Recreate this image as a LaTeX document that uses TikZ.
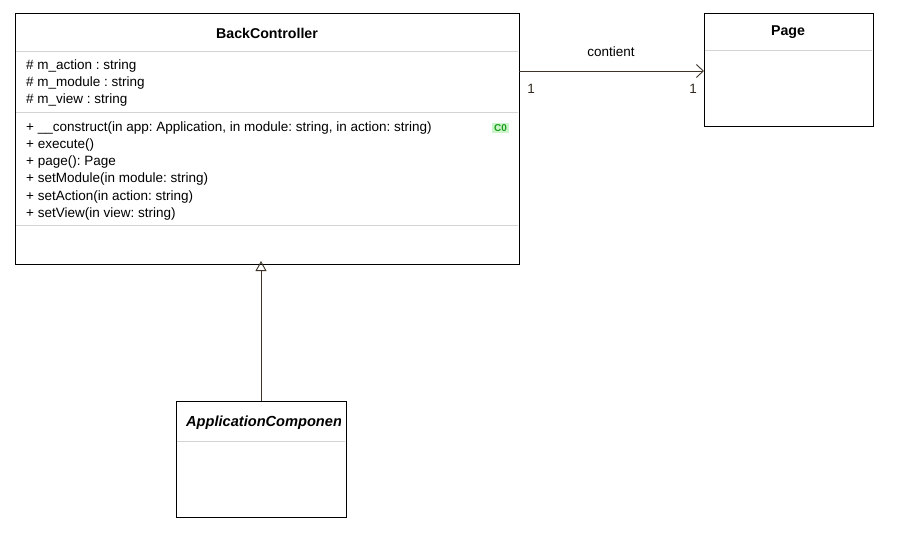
\documentclass[tikz,border=0pt]{standalone}
\usepackage{fontspec}
\setmainfont{Liberation Sans}
\usetikzlibrary{arrows.meta}
\frenchspacing
\definecolor{sepgray}{HTML}{D4D4D4}
\definecolor{linkc}{HTML}{3E3528}
\definecolor{badgebg}{HTML}{CCF5CC}
\definecolor{badgefg}{HTML}{1E9E1E}
\tikzset{
  classbox/.style={draw=black, line width=0.9pt, fill=white},
  sepline/.style={draw=sepgray, line width=0.8pt},
  member/.style={anchor=west, inner sep=0pt, font=\fontsize{13.5}{15}\selectfont},
  ctitle/.style={inner sep=0pt, font=\fontsize{14.2}{16}\selectfont\bfseries},
  link/.style={draw=linkc, line width=0.9pt},
  mult/.style={inner sep=0pt, font=\fontsize{13.5}{15}\selectfont, text=linkc!80!black},
}
\begin{document}
\begin{tikzpicture}[x=1pt,y=-1pt]
\useasboundingbox (0,0) rectangle (899,533);
% BackController
\path[classbox] (15,13) rectangle (519,264);
\coordinate (bcE) at (519,71);
\coordinate (bcS) at (261,264);
\node[ctitle] (bct) at (267,33) {BackController};
\draw[sepline] (16,51) -- (518,51);
\node[member] (a1) at (26,66.5) {\# m\_action : string};
\node[member] (a2) at (26,83.5) {\# m\_module : string};
\node[member] (a3) at (26,100.5) {\# m\_view : string};
\draw[sepline] (16,112) -- (518,112);
\node[member] (m1) at (26,128.5) {+ \_\_construct(in app: Application, in module: string, in action: string)};
\node[member] (m2) at (26,145.5) {+ execute()};
\node[member] (m3) at (26,162.5) {+ page(): Page};
\node[member] (m4) at (26,179.5) {+ setModule(in module: string)};
\node[member] (m5) at (26,197) {+ setAction(in action: string)};
\node[member] (m6) at (26,214.5) {+ setView(in view: string)};
\draw[sepline] (16,225) -- (518,225);
\node[fill=badgebg, text=badgefg, inner xsep=2pt, inner ysep=1.5pt, font=\fontsize{10}{11}\selectfont\bfseries] (badge) at (500.5,128) {C0};
% Page
\path[classbox] (704,13) rectangle (873,126);
\coordinate (pgW) at (704,71);
\node[ctitle] (pgt) at (788,32) {Page};
\draw[sepline] (705,50) -- (872,50);
% ApplicationComponent
\path[classbox] (176,401) rectangle (346,517);
\coordinate (acN) at (261,401);
\begin{scope}
\clip (178,402) rectangle (340,440);
\node[ctitle, font=\fontsize{14.6}{16}\selectfont\bfseries\itshape, anchor=west] (act) at (186,423) {ApplicationComponent};
\end{scope}
\draw[sepline] (177,441) -- (345,441);
% association
\draw[link, -{Straight Barb[length=7pt, width=13pt, line width=0.9pt]}] (bcE) -- (pgW);
\node[inner sep=0pt, font=\fontsize{13.5}{15}\selectfont] (lbl) at (611,52) {contient};
\node[mult] (m1l) at (531,89) {1};
\node[mult] (m2l) at (693,89) {1};
% generalization
\draw[link, -{Triangle[open, length=10pt, width=11pt, line width=0.9pt]}] (acN) -- ([yshift=3pt]bcS);
\end{tikzpicture}
\end{document}
